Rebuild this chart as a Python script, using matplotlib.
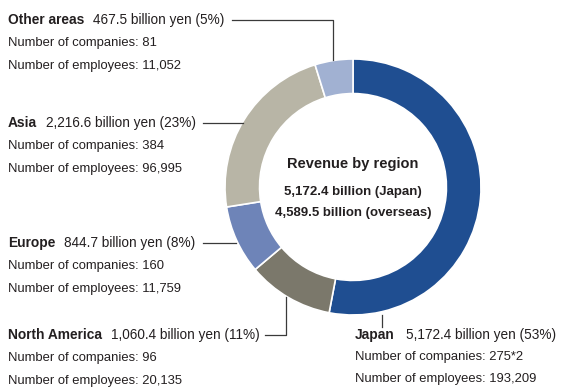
import matplotlib
matplotlib.use("Agg")
import matplotlib.pyplot as plt

plt.rcParams['font.family'] = ['Liberation Sans', 'DejaVu Sans']

# Revenue by region (billion yen), clockwise from the top
regions = ["Japan", "North America", "Europe", "Asia", "Other areas"]
revenue = [5172.4, 1060.4, 844.7, 2216.6, 467.5]
shares = ["53%", "11%", "8%", "23%", "5%"]
companies = ["275*2", "96", "160", "384", "81"]
employees = ["193,209", "20,135", "11,759", "96,995", "11,052"]
colors = ["#1f4e91", "#7b786b", "#6e84b8", "#b8b5a6", "#a1b1d2"]
japan_total = 5172.4
overseas_total = 4589.5

W, H = 564, 390
fig = plt.figure(figsize=(W / 100, H / 100), dpi=100)

# donut
cx, cy, r = 353, 187, 128
pax = fig.add_axes([(cx - r) / W, 1 - (cy + r) / H, 2 * r / W, 2 * r / H])
pax.pie(revenue, colors=colors, startangle=90, counterclock=False,
        wedgeprops=dict(width=0.27, edgecolor="white", linewidth=1.2))
pax.set_xlim(-1, 1)
pax.set_ylim(-1, 1)
pax.set_aspect("equal")

# overlay in pixel coordinates for labels and leader lines
ax = fig.add_axes([0, 0, 1, 1])
ax.set_xlim(0, W)
ax.set_ylim(H, 0)
ax.axis("off")

txt = "#231f20"
fs = 9.4
fig.canvas.draw()
rend = fig.canvas.get_renderer()

def right_edge(t):
    bb = t.get_window_extent(renderer=rend)
    return ax.transData.inverted().transform((bb.x1, 0))[0]

def label(x, y, i, gap=9, dy=23):
    t = ax.text(x, y, regions[i], fontsize=9.9, fontweight="bold", color=txt, va="center")
    t2 = ax.text(right_edge(t) + gap, y, f"{revenue[i]:,.1f} billion yen ({shares[i]})",
                 fontsize=fs + 0.4, color=txt, va="center")
    ax.text(x, y + dy, f"Number of companies: {companies[i]}", fontsize=fs, color=txt, va="center")
    ax.text(x, y + 2 * dy, f"Number of employees: {employees[i]}", fontsize=fs, color=txt, va="center")
    return right_edge(t2)

lc = dict(color="#3a3a3a", linewidth=0.9)

# Other areas
e = label(8, 20, 4)
ax.plot([e + 7, 333, 333], [20, 20, 60], **lc)
# Asia
e = label(8, 123, 3)
ax.plot([e + 7, 243], [123, 123], **lc)
# Europe
e = label(8, 243, 2)
ax.plot([e + 7, 236], [243, 243], **lc)
# North America
e = label(8, 335, 1)
ax.plot([e + 5, 286, 286], [335, 335, 297], **lc)
# Japan
label(355, 335, 0, gap=11, dy=22)
ax.plot([382, 382], [315, 327], **lc)

# centre caption
ax.text(cx, 164, "Revenue by region", fontsize=10.5, fontweight="bold", color=txt,
        ha="center", va="center")
ax.text(cx, 192, f"{japan_total:,.1f} billion (Japan)", fontsize=9.5, fontweight="bold",
        color=txt, ha="center", va="center")
ax.text(cx, 213, f"{overseas_total:,.1f} billion (overseas)", fontsize=9.5,
        fontweight="bold", color=txt, ha="center", va="center")

fig.savefig("out.png", dpi=100, facecolor="white")
